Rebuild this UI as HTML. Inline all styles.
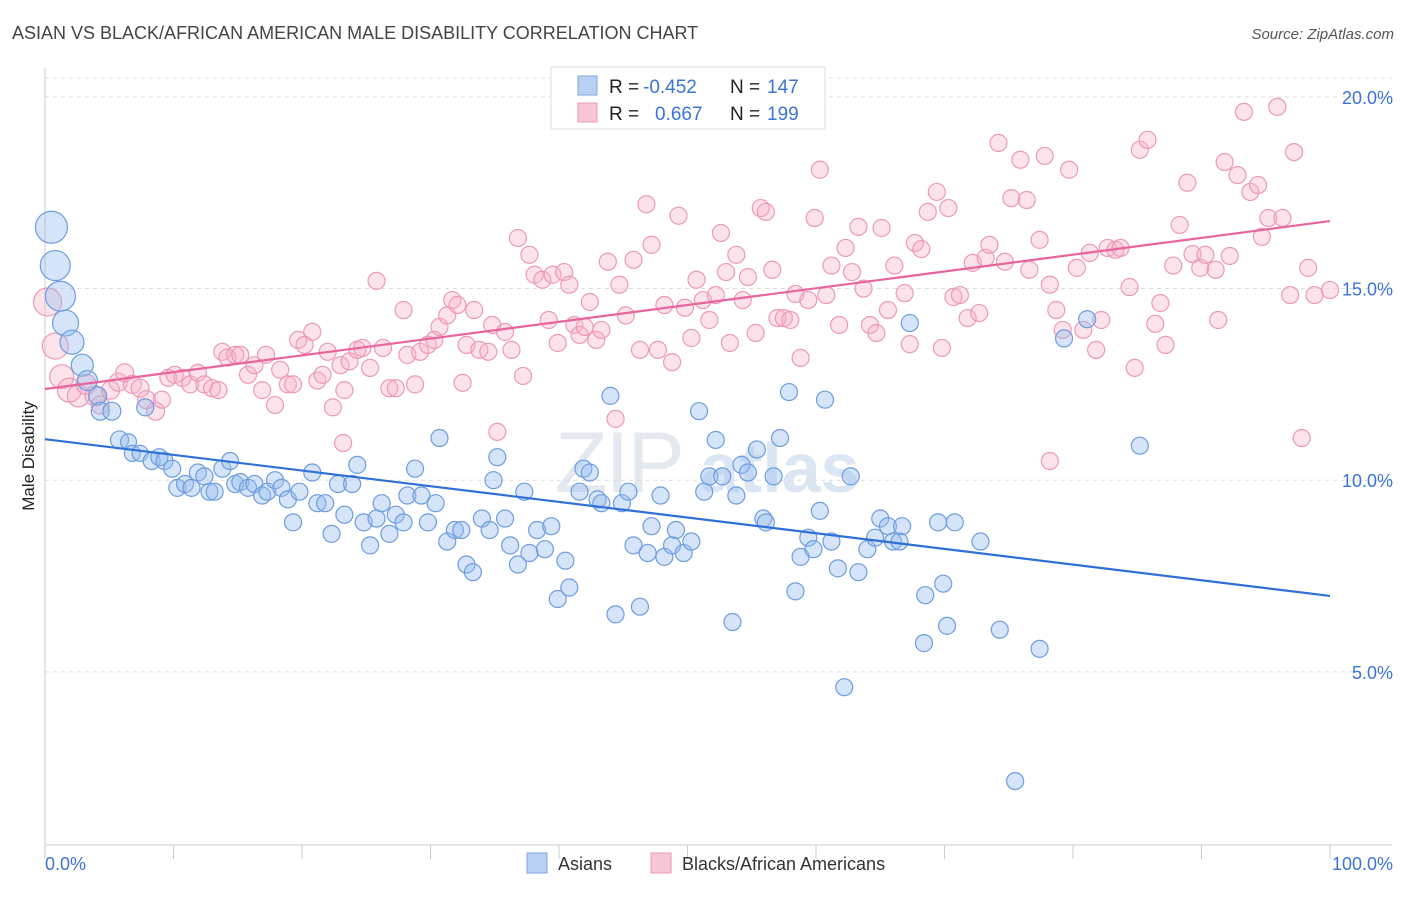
<!DOCTYPE html>
<html><head><meta charset="utf-8">
<style>
body{margin:0;background:#fff;font-family:"Liberation Sans",sans-serif;}
svg text{font-family:"Liberation Sans",sans-serif;}
</style></head>
<body>
<svg id="chart" width="1406" height="892" viewBox="0 0 1406 892" xmlns="http://www.w3.org/2000/svg">
<text x="12" y="39" font-size="18" fill="#444">ASIAN VS BLACK/AFRICAN AMERICAN MALE DISABILITY CORRELATION CHART</text>
<text x="1394" y="39" font-size="15" fill="#555" text-anchor="end" font-style="italic">Source: ZipAtlas.com</text>
<text x="555" y="492" font-size="86" fill="#e4e9f0" letter-spacing="-2">ZIP</text>
<text x="700" y="492" font-size="70" fill="#dbe6f5" font-weight="bold">atlas</text>
<g id="grid"></g>
<g id="axes"></g>
<g id="pink"></g>
<g id="blue"></g>
<g id="lines"></g>
<text transform="translate(34,456) rotate(-90)" font-size="17" fill="#222" text-anchor="middle">Male Disability</text>
<g>
<rect x="551" y="67" width="274" height="62" fill="#fff" stroke="#ddd"/>
<rect x="578" y="76" width="19" height="19" fill="#b8d1f3" stroke="#7ea6e0"/>
<rect x="578" y="103" width="19" height="19" fill="#f8c6d6" stroke="#eb99b5"/>
<text x="609" y="93" font-size="19" fill="#222">R =</text>
<text x="643" y="93" font-size="19" fill="#3b73d9">-0.452</text>
<text x="730" y="93" font-size="19" fill="#222">N =</text>
<text x="767" y="93" font-size="19" fill="#3b73d9">147</text>
<text x="609" y="120" font-size="19" fill="#222">R =</text>
<text x="655" y="120" font-size="19" fill="#3b73d9">0.667</text>
<text x="730" y="120" font-size="19" fill="#222">N =</text>
<text x="767" y="120" font-size="19" fill="#3b73d9">199</text>
</g>
<g>
<rect x="527" y="853" width="20" height="20" fill="#b8d1f3" stroke="#7ea6e0"/>
<text x="558" y="870" font-size="18" fill="#333">Asians</text>
<rect x="651" y="853" width="20" height="20" fill="#f8c6d6" stroke="#eb99b5"/>
<text x="682" y="870" font-size="18" fill="#333">Blacks/African Americans</text>
</g>
</svg>
<script>
const yTicks=[5,10,15,20];
const yTickLabels=["5.0%","10.0%","15.0%","20.0%"];
const xTickLabels=["0.0%","100.0%"];
const blueX=[0.5,0.8,1.2,1.6,2.1,2.9,3.3,4.1,4.3,5.2,5.8,6.5,6.8,7.4,7.8,8.3,8.9,9.3,9.9,10.3,10.9,11.4,11.9,12.4,12.8,13.2,13.8,14.4,14.8,15.2,15.8,16.3,16.9,17.3,17.9,18.4,18.9,19.3,19.8,20.8,21.2,21.8,22.3,22.8,23.3,23.9,24.3,24.8,25.3,25.8,26.2,26.8,27.3,27.9,28.2,28.8,29.3,29.8,30.4,30.7,31.3,31.9,32.4,32.8,33.3,34.0,34.6,34.9,35.2,35.8,36.2,36.8,37.3,37.7,38.3,38.9,39.4,39.9,40.5,40.8,41.6,41.9,42.4,43.0,43.3,44.0,44.4,44.9,45.4,45.8,46.3,46.9,47.2,47.9,48.2,48.8,49.1,49.7,50.3,50.9,51.3,51.7,52.2,52.7,53.5,53.8,54.2,54.7,55.4,55.9,56.1,56.7,57.2,57.9,58.4,58.8,59.4,59.8,60.3,60.7,61.2,61.7,62.2,62.7,63.3,64.0,64.6,65.0,65.6,66.0,66.5,66.7,67.3,68.5,68.4,69.5,69.9,70.2,70.8,72.8,74.3,75.5,77.4,79.3,81.1,85.2];
const blueY=[16.6,15.6,14.8,14.1,13.6,13.0,12.6,12.2,11.8,11.8,11.05,11.0,10.7,10.7,11.9,10.5,10.6,10.5,10.3,9.8,9.9,9.8,10.2,10.1,9.7,9.7,10.3,10.5,9.9,9.95,9.8,9.9,9.6,9.7,10.0,9.8,9.5,8.9,9.7,10.2,9.4,9.4,8.6,9.9,9.1,9.9,10.4,8.9,8.3,9.0,9.4,8.6,9.1,8.9,9.6,10.3,9.6,8.9,9.4,11.1,8.4,8.7,8.7,7.8,7.6,9.0,8.7,10.0,10.6,9.0,8.3,7.8,9.7,8.1,8.7,8.2,8.8,6.9,7.9,7.2,9.7,10.3,10.2,9.5,9.4,12.2,6.5,9.4,9.7,8.3,6.7,8.1,8.8,9.6,8.0,8.3,8.7,8.1,8.4,11.8,9.7,10.1,11.05,10.1,6.3,9.6,10.4,10.2,10.8,9.0,8.9,10.1,11.1,12.3,7.1,8.0,8.5,8.2,9.2,12.1,8.4,7.7,4.6,10.1,7.6,8.2,8.5,9.0,8.8,8.4,8.4,8.8,14.1,7.0,5.75,8.9,7.3,6.2,8.9,8.4,6.1,2.15,5.6,13.7,14.2,10.9];
const blueR=[16,15,15,13,12,11,10,9,9,9,9,8,8,8];
const pinkX=[0.2,0.8,1.3,1.9,2.6,3.2,3.9,4.3,5.1,5.7,6.2,6.8,7.4,7.9,8.6,9.1,9.6,10.1,10.7,11.3,11.9,12.4,13.0,13.5,13.8,14.2,14.8,15.2,15.8,16.3,16.9,17.2,17.9,18.3,18.9,19.3,19.7,20.2,20.8,21.2,21.6,22.0,22.4,23.0,23.3,23.7,24.3,24.7,25.3,25.8,26.3,26.8,27.3,27.9,28.2,28.8,29.2,29.8,30.3,30.7,31.3,31.7,32.1,32.5,32.8,33.4,33.8,34.5,34.8,35.2,35.8,36.3,36.8,37.2,37.7,38.1,38.7,39.2,39.5,39.9,40.4,40.8,41.2,41.6,42.0,42.4,42.9,43.3,43.8,44.4,44.7,45.2,45.8,46.3,46.8,47.2,47.7,48.2,48.8,49.3,49.8,50.3,50.7,51.2,51.7,52.2,52.6,53.0,53.3,53.8,54.3,54.7,55.3,55.7,56.1,56.6,57.0,57.5,58.0,58.4,58.8,59.4,59.9,60.3,60.8,61.2,61.8,62.3,62.8,63.3,63.7,64.2,64.7,65.1,65.6,66.1,66.9,67.3,67.7,68.2,68.7,69.4,69.8,70.3,70.7,71.2,71.8,72.2,72.7,73.2,73.5,74.2,74.7,75.2,75.9,76.4,76.6,77.4,77.8,78.2,78.7,79.2,79.7,80.3,80.8,81.3,81.8,82.2,82.7,83.3,83.7,84.4,84.8,85.2,85.8,86.4,86.8,87.2,87.8,88.3,88.9,89.3,89.9,90.3,91.1,91.3,91.8,92.2,92.8,93.3,93.8,94.4,94.7,95.2,95.9,96.3,96.9,97.2,97.8,98.3,98.8,100,78.2,23.2];
const pinkY=[14.65,13.5,12.7,12.35,12.2,12.5,12.2,11.96,12.35,12.56,12.8,12.5,12.4,12.1,11.8,12.1,12.67,12.75,12.67,12.5,12.8,12.5,12.4,12.35,13.35,13.2,13.27,13.27,12.75,13.0,12.35,13.27,11.96,12.88,12.5,12.5,13.66,13.53,13.87,12.6,12.75,13.35,11.9,13.0,12.35,13.1,13.4,13.45,12.93,15.2,13.45,12.4,12.4,14.44,13.27,12.5,13.35,13.53,13.66,14.0,14.3,14.7,14.57,12.54,13.53,14.44,13.4,13.35,14.05,11.26,13.87,13.4,16.32,12.72,15.88,15.36,15.23,14.18,15.36,13.58,15.43,15.1,14.05,13.79,14.0,14.65,13.66,13.92,15.7,11.6,15.1,14.3,15.75,13.4,17.2,16.14,13.4,14.57,13.08,16.9,14.5,13.71,15.23,14.7,14.18,14.83,16.45,15.43,13.58,15.88,14.7,15.3,13.84,17.1,17.0,15.49,14.23,14.23,14.18,14.86,13.19,14.7,16.84,18.1,14.83,15.6,14.05,16.06,15.43,16.61,15.0,14.05,13.84,16.58,14.44,15.6,14.88,13.55,16.19,16.03,17.0,17.52,13.45,17.1,14.78,14.83,14.23,15.67,14.36,15.8,16.14,18.8,15.7,17.36,18.36,17.31,15.49,16.27,18.46,15.1,14.44,13.92,18.1,15.54,13.92,15.93,13.4,14.18,16.06,16.01,16.06,15.04,12.93,18.62,18.88,14.08,14.62,13.53,15.6,16.66,17.76,15.9,15.54,15.88,15.49,14.18,18.3,15.85,17.96,19.61,17.52,17.7,16.35,16.84,19.74,16.84,14.83,18.56,11.1,15.54,14.83,14.96,10.5,10.97];
const pinkR=[14,13,12,12,11,10,10,9,9,9,9,9,9,9,9];
const blueTrend=[11.07,6.98];
const pinkTrend=[12.38,16.76];

const NS="http://www.w3.org/2000/svg";
const X0=45,X1=1330;
function xs(v){return X0+(X1-X0)*v/100;}
function ys(v){return 863.5-38.33*v;}
function mk(tag,attrs,parent){const e=document.createElementNS(NS,tag);for(const k in attrs)e.setAttribute(k,attrs[k]);parent.appendChild(e);return e;}
const grid=document.getElementById('grid'),axes=document.getElementById('axes');
yTicks.forEach((t,i)=>{
  const l=mk('line',{x1:X0,x2:1392,y1:ys(t),y2:ys(t),stroke:'#dcdcdc','stroke-dasharray':'4,4'},grid);
  
  
  const tx=mk('text',{x:1393,y:ys(t)+7,'font-size':18,fill:'#3b73d9','text-anchor':'end'},axes);
  tx.textContent=yTickLabels[i];
  
  
});
const topLine=mk('line',{x1:X0,x2:1392,y1:78,y2:78,stroke:'#dcdcdc','stroke-dasharray':'4,4'},grid);


const ya=mk('line',{x1:X0,x2:X0,y1:68,y2:845,stroke:'#ccc'},axes);


const xa=mk('line',{x1:X0,x2:1392,y1:845,y2:845,stroke:'#ccc'},axes);


for(let i=0;i<=10;i++){
  const t=mk('line',{x1:xs(i*10),x2:xs(i*10),y1:845,y2:859,stroke:'#ccc'},axes);
  
  
}
const xl0=mk('text',{x:45,y:870,'font-size':18,fill:'#3b73d9'},axes);xl0.textContent=xTickLabels[0];


const xl1=mk('text',{x:1393,y:870,'font-size':18,fill:'#3b73d9','text-anchor':'end'},axes);xl1.textContent=xTickLabels[1];


const pg=document.getElementById('pink');
pinkX.forEach((x,i)=>{
  const c=mk('circle',{cx:xs(x),cy:ys(pinkY[i]),r:pinkR[i]||8.5,fill:'rgba(246,175,199,0.35)',stroke:'#ee98b6','stroke-width':1.2},pg);
  
  
});
const bg=document.getElementById('blue');
blueX.forEach((x,i)=>{
  const c=mk('circle',{cx:xs(x),cy:ys(blueY[i]),r:blueR[i]||8.5,fill:'rgba(150,188,238,0.4)',stroke:'#6d9de0','stroke-width':1.2},bg);
  
  
});
const lg=document.getElementById('lines');
const bl=mk('line',{x1:xs(0),y1:ys(blueTrend[0]),x2:xs(100),y2:ys(blueTrend[1]),stroke:'#2f6fd8','stroke-width':2.2},lg);


const pl=mk('line',{x1:xs(0),y1:ys(pinkTrend[0]),x2:xs(100),y2:ys(pinkTrend[1]),stroke:'#e8649a','stroke-width':2.2},lg);


</script>
</body></html>
